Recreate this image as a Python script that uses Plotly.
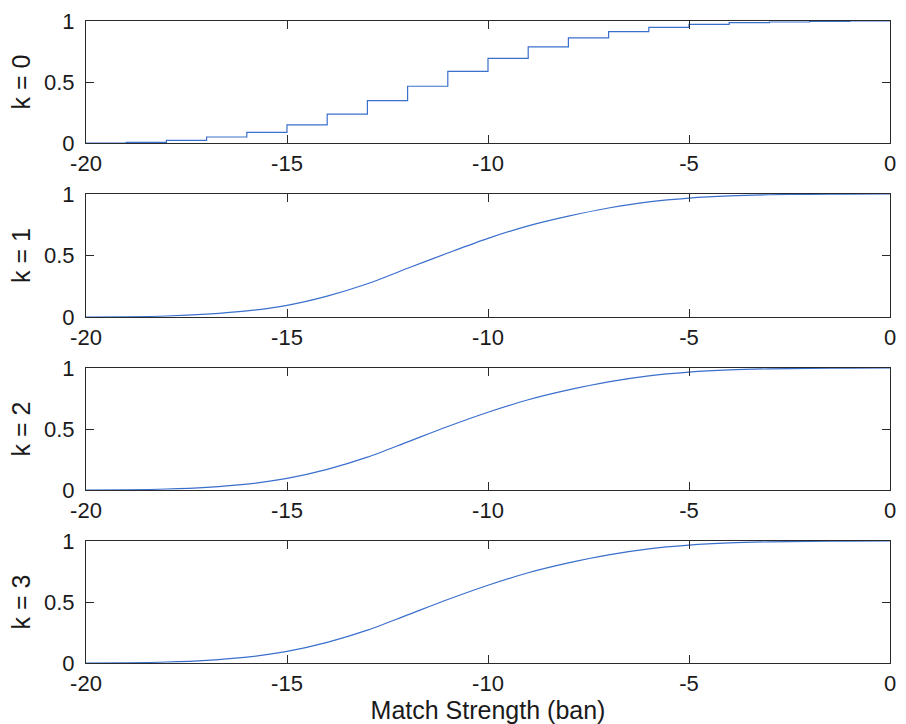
import plotly.graph_objects as go

# Match strength grid (ban)
strength = [-20, -19, -18, -17, -16, -15, -14, -13, -12, -11, -10,
            -9, -8, -7, -6, -5, -4, -3, -2, -1, 0]

# k = 0: cumulative fraction, constant on [x, x+1)
cdf_k0 = [0.0, 0.005, 0.022, 0.049, 0.087, 0.149, 0.236, 0.348, 0.465, 0.587, 0.693,
          0.788, 0.861, 0.913, 0.948, 0.973, 0.986, 0.992, 0.997, 1.0, 1.0]

# k = 1, 2, 3: cumulative fraction at each grid point
cdf_k1 = [0.0, 0.002, 0.008, 0.023, 0.049, 0.095, 0.170, 0.270, 0.396, 0.520, 0.639,
          0.741, 0.820, 0.886, 0.936, 0.967, 0.985, 0.994, 0.997, 0.999, 1.0]
cdf_k2 = [0.0, 0.002, 0.008, 0.022, 0.048, 0.095, 0.169, 0.269, 0.394, 0.520, 0.637,
          0.740, 0.821, 0.887, 0.936, 0.966, 0.984, 0.993, 0.997, 0.999, 1.0]
cdf_k3 = [0.0, 0.002, 0.008, 0.022, 0.048, 0.095, 0.169, 0.269, 0.394, 0.520, 0.637,
          0.740, 0.821, 0.887, 0.936, 0.966, 0.984, 0.993, 0.997, 0.999, 1.0]

panel_labels = ["k = 0", "k = 1", "k = 2", "k = 3"]
x_ticks = [-20, -15, -10, -5, 0]
y_ticks = [0, 0.5, 1]
y_tick_text = ["0", "0.5", "1"]

LINE = "#3a6fcc"
AXIS = "#2b2b2b"
TEXT = "#1a1a1a"
FONT = "Liberation Sans, Arial, Helvetica, sans-serif"

W, H = 906, 724
x_dom = [86 / W, 890 / W]
# (top, bottom) pixel rows of each panel
rows = [(21, 143), (194, 317), (368, 490), (541, 663)]

fig = go.Figure()
series = [(cdf_k0, "hv"), (cdf_k1, "spline"), (cdf_k2, "spline"), (cdf_k3, "spline")]

for i, (ys, shape) in enumerate(series):
    n = i + 1
    fig.add_trace(go.Scatter(
        x=strength, y=ys, mode="lines",
        line=dict(color=LINE, width=1.2, shape=shape, smoothing=0.8),
        xaxis=f"x{n}" if n > 1 else "x", yaxis=f"y{n}" if n > 1 else "y",
        showlegend=False, hoverinfo="skip",
    ))
    top, bot = rows[i]
    common = dict(showline=True, linecolor=AXIS, linewidth=1.2, mirror="ticks",
                  ticks="inside", ticklen=8, tickwidth=1.2, tickcolor=AXIS,
                  showgrid=False, zeroline=False, automargin=False,
                  tickfont=dict(family=FONT, size=22, color=TEXT))
    xa = dict(domain=x_dom, range=[-20, 0], tickvals=x_ticks,
              ticktext=[str(v) for v in x_ticks],
              anchor=f"y{n}" if n > 1 else "y", **common)
    if n == 4:
        xa["title"] = dict(text="Match Strength (ban)",
                           font=dict(family=FONT, size=25, color=TEXT),
                           standoff=3)
    ya = dict(domain=[1 - bot / H, 1 - top / H], range=[0, 1],
              tickvals=y_ticks, ticktext=y_tick_text,
              anchor=f"x{n}" if n > 1 else "x", ticklabelstandoff=6,
              title=dict(text=panel_labels[i],
                         font=dict(family=FONT, size=25, color=TEXT),
                         standoff=6),
              **common)
    fig.layout[f"xaxis{n}" if n > 1 else "xaxis"] = xa
    fig.layout[f"yaxis{n}" if n > 1 else "yaxis"] = ya

fig.update_layout(
    width=W, height=H,
    margin=dict(l=0, r=0, t=0, b=0),
    paper_bgcolor="white", plot_bgcolor="white",
)

fig.write_html("out.html")
